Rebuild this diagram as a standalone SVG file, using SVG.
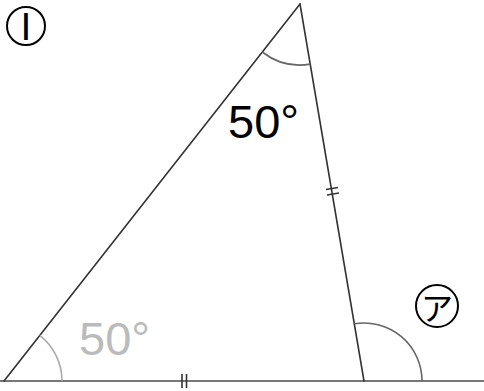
<svg xmlns="http://www.w3.org/2000/svg" width="484" height="391" viewBox="0 0 484 391">
<style>
.edge{stroke:#333;stroke-width:1.6;fill:none;stroke-linecap:round}
.base{stroke:#777;stroke-width:2;fill:none}
.arc{stroke:#666;stroke-width:1.6;fill:none}
.arcl{stroke:#aaa;stroke-width:1.6;fill:none}
.tick{stroke:#333;stroke-width:1.6}
.lbl{font-family:"Liberation Sans",Arial,sans-serif;font-size:47px}
.circ{stroke:#000;stroke-width:2;fill:none}
</style>
<rect width="484" height="391" fill="#fff"/>
<g id="connectors">
<line class="base" x1="0" y1="381" x2="484" y2="381"/>
<line class="edge" x1="4" y1="381" x2="300" y2="4"/>
<line class="edge" x1="300" y1="4" x2="364" y2="381"/>
</g>
<g id="angle-left">
<path class="arcl" d="M62 381 A58 58 0 0 0 39.8 335.4"/>
<text class="lbl" x="79" y="355" fill="#bbb">50°</text>
</g>
<g id="angle-top">
<path class="arc" d="M262.3 52 A61 61 0 0 0 310.2 64.1"/>
<text class="lbl" x="228" y="138" fill="#000">50°</text>
</g>
<g id="angle-right">
<path class="arc" d="M422 381 A58 58 0 0 0 354.3 323.8"/>
</g>
<g id="ticks">
<line class="tick" x1="326" y1="189.5" x2="338" y2="187.5"/>
<line class="tick" x1="327" y1="195" x2="339" y2="193"/>
<line class="tick" x1="182" y1="374" x2="182" y2="388"/>
<line class="tick" x1="186.5" y1="374" x2="186.5" y2="388"/>
</g>
<g id="label-i">
<circle class="circ" cx="26" cy="26" r="19"/>
<text x="26" y="40" text-anchor="middle" style="font-family:'Liberation Sans',sans-serif;font-size:39px">I</text>
</g>
<g id="label-a">
<circle class="circ" cx="437" cy="306" r="21"/>
<text x="437" y="320" text-anchor="middle" style="font-family:'Noto Sans CJK JP',sans-serif;font-size:32px">ア</text>
</g>
</svg>
